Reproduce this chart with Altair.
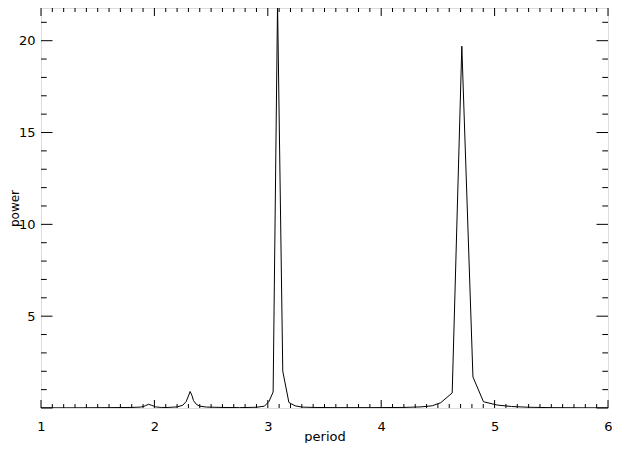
import altair as alt
import pandas as pd

# periodogram samples
period = [1.00, 1.30, 1.60, 1.80, 1.88, 1.92, 1.947, 1.975, 2.01, 2.06, 2.12, 2.20, 2.25,
          2.28, 2.30, 2.315, 2.33, 2.345, 2.37, 2.40, 2.46, 2.60, 2.75, 2.90, 2.97, 3.01,
          3.047, 3.086, 3.132, 3.186, 3.24, 3.30, 3.40, 3.60, 3.90, 4.20, 4.35, 4.45,
          4.525, 4.626, 4.711, 4.809, 4.902, 5.024, 5.15, 5.30, 5.50, 5.80, 6.00]
power = [0.01, 0.01, 0.02, 0.03, 0.05, 0.12, 0.20, 0.15, 0.06, 0.03, 0.03, 0.06, 0.15,
         0.35, 0.65, 0.90, 0.70, 0.40, 0.20, 0.10, 0.05, 0.03, 0.02, 0.04, 0.10, 0.35,
         0.87, 22.05, 2.00, 0.30, 0.12, 0.05, 0.03, 0.02, 0.02, 0.03, 0.06, 0.12,
         0.29, 0.82, 19.70, 1.69, 0.34, 0.16, 0.08, 0.04, 0.02, 0.01, 0.01]

x_major = [1, 2, 3, 4, 5, 6]
x_minor = [round(1 + i / 10, 1) for i in range(51) if i % 10 != 0]
y_labels = [5, 10, 15, 20]
y_major = [0, 5, 10, 15, 20]
y_minor = [v for v in range(1, 22) if v % 5 != 0]

W, H = 567, 400
XDOM = [1, 6]
YDOM = [0, 21.78]
FONT = "DejaVu Sans"

df = pd.DataFrame({"period": period, "power": power})
xs = alt.Scale(domain=XDOM, nice=False, zero=False)
ys = alt.Scale(domain=YDOM, nice=False, zero=False)

line = alt.Chart(df).mark_line(color="black", strokeWidth=1, clip=True).encode(
    x=alt.X("period:Q", scale=xs, title="period",
            axis=alt.Axis(values=x_major, format="d", ticks=False, domain=False, grid=False,
                          tickSize=0, labelPadding=12, labelFontSize=13, labelFont=FONT,
                          labelColor="black", labelFlush=False,
                          titleFont=FONT, titleFontSize=13, titleFontWeight="normal",
                          titleColor="black", titleX=W / 2, titleY=32,
                          titleBaseline="alphabetic")),
    y=alt.Y("power:Q", scale=ys, title="power",
            axis=alt.Axis(values=y_labels, format="d", ticks=False, domain=False, grid=False,
                          tickSize=0, labelPadding=6, labelFontSize=13, labelFont=FONT,
                          labelColor="black", labelFlush=False,
                          titleFont=FONT, titleFontSize=12, titleFontWeight="normal",
                          titleColor="black", titleX=-23, titleY=H / 2,
                          titleAngle=270, titleBaseline="alphabetic")),
)


def xticks(vals, y0, y1):
    return alt.Chart(pd.DataFrame({"t": vals})).mark_rule(color="black", strokeWidth=1).encode(
        x=alt.X("t:Q", scale=xs), y=alt.value(y0), y2=alt.value(y1))


def yticks(vals, x0, x1):
    return alt.Chart(pd.DataFrame({"t": vals})).mark_rule(color="black", strokeWidth=1).encode(
        y=alt.Y("t:Q", scale=ys), x=alt.value(x0), x2=alt.value(x1))


XL, XS = 8, 4
YL, YS = 11.5, 5.7

layers = [
    xticks(x_major, H, H - XL), xticks(x_minor, H, H - XS),
    xticks(x_major, 0, XL), xticks(x_minor, 0, XS),
    yticks(y_major, 0, YL), yticks(y_minor, 0, YS),
    yticks(y_major, W, W - YL), yticks(y_minor, W, W - YS),
    line,
]

chart = alt.layer(*layers).properties(
    width=W, height=H,
    autosize=alt.AutoSizeParams(type="none"),
    padding={"left": 33, "top": 0, "right": 4, "bottom": 35},
).configure_view(stroke="black", strokeWidth=1).configure(background="white")

chart.save("out.html", embed_options={"renderer": "svg", "actions": False})
